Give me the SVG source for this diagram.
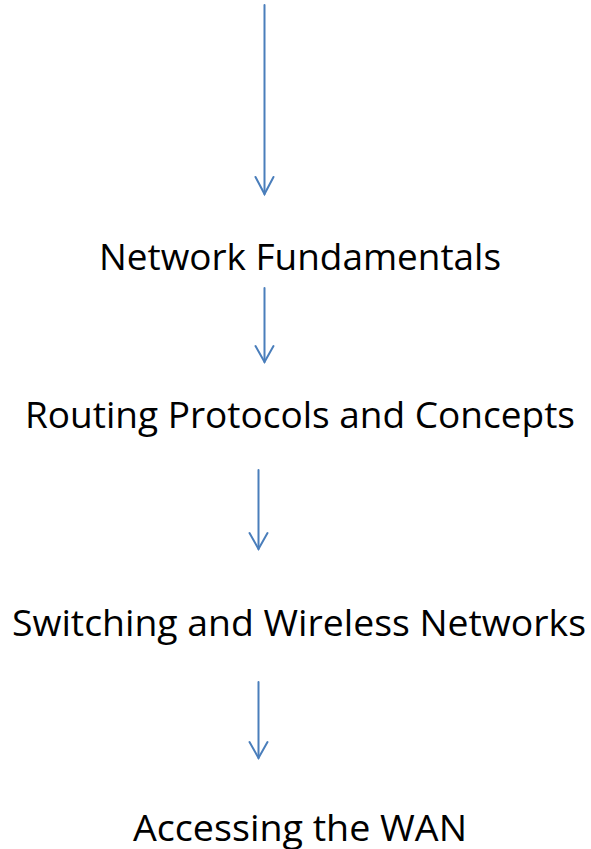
<svg xmlns="http://www.w3.org/2000/svg" width="591" height="849" viewBox="0 0 591 849">
<style>
.lbl{font-family:"Open Sans","Liberation Sans",sans-serif;font-size:36px;fill:#000;text-anchor:middle}
.conn line,.conn polyline{stroke:#4a7ebb;stroke-width:2;fill:none;stroke-linecap:round;stroke-linejoin:miter}
</style>
<rect width="591" height="849" fill="#fff"/>
<g class="conn" id="connectors">
<line x1="264.5" y1="5" x2="264.5" y2="194"/>
<polyline points="255.5,177 264.5,194 273.5,177"/>
<line x1="264.5" y1="288" x2="264.5" y2="362"/>
<polyline points="255.5,346 264.5,362 273.5,346"/>
<line x1="258.5" y1="470" x2="258.5" y2="549"/>
<polyline points="249.5,533 258.5,549 267.5,533"/>
<line x1="258.5" y1="682" x2="258.5" y2="758"/>
<polyline points="249.5,742 258.5,758 267.5,742"/>
</g>
<g id="n1"><text class="lbl" x="300" y="270" textLength="402" lengthAdjust="spacingAndGlyphs">Network Fundamentals</text></g>
<g id="n2"><text class="lbl" x="300" y="428" textLength="550" lengthAdjust="spacingAndGlyphs">Routing Protocols and Concepts</text></g>
<g id="n3"><text class="lbl" x="299" y="636" textLength="574" lengthAdjust="spacingAndGlyphs">Switching and Wireless Networks</text></g>
<g id="n4"><text class="lbl" x="300" y="841" textLength="334" lengthAdjust="spacingAndGlyphs">Accessing the WAN</text></g>
</svg>
